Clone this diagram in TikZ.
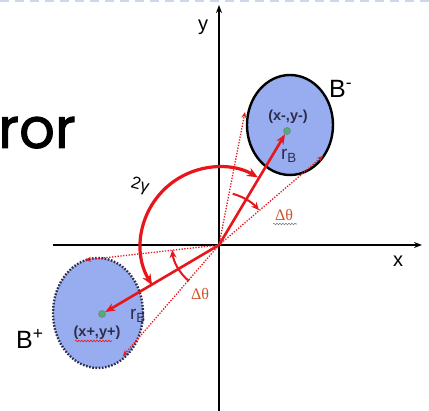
\documentclass[tikz,border=0pt]{standalone}
\usepackage{fontspec}
\setmainfont{Liberation Sans}
\newfontfamily\seriff{Liberation Serif}
\newfontfamily\popf[FakeBold=1.6]{Poppins}
\usetikzlibrary{arrows.meta,decorations.pathmorphing,shapes.geometric}
\definecolor{bfill}{RGB}{152,172,240}
\definecolor{rred}{RGB}{230,22,26}
\definecolor{dth}{RGB}{205,85,45}
\definecolor{dotg}{RGB}{80,175,115}
\definecolor{topline}{RGB}{205,215,235}
\definecolor{navytext}{RGB}{45,45,75}
\begin{document}
\begin{tikzpicture}[x=1pt,y=1pt,
  axisline/.style={line width=1.6pt,-{Stealth[length=8pt,width=6pt]}},
  ray/.style={rred,line width=2.6pt,-{Stealth[length=10pt,width=8pt]}},
  dray/.style={rred,line width=1.3pt,dash pattern=on 1.3pt off 1.5pt,-{Stealth[length=6pt,width=5pt]}},
  bigarc/.style={rred,line width=3.2pt,{Stealth[length=11pt,width=9pt]}-{Stealth[length=11pt,width=9pt]}},
  smallarc/.style={rred,line width=2pt,-{Stealth[length=8pt,width=7pt]}},
  bell/.style={ellipse,fill=bfill,inner sep=0pt},
  cdot/.style={circle,fill=dotg,draw=gray,line width=0.6pt,minimum size=7pt,inner sep=0pt},
  lbl/.style={inner sep=0pt},
  dlbl/.style={inner sep=0pt,text=dth,font=\seriff\fontsize{16}{18}\selectfont},
  wavy/.style={decorate,decoration={snake,amplitude=0.8pt,segment length=3pt},line width=0.6pt}
]
\useasboundingbox (0,0) rectangle (429,411);
% top dashed line
\draw[topline,line width=2pt,dash pattern=on 9pt off 6pt] (0,410) -- (429,410);
% title fragment
\node[lbl,anchor=base west,font=\popf\fontsize{56}{60}\selectfont] (ror) at (-2,263) {ror};
% axes
\coordinate (O) at (219,166);
\coordinate (ybot) at (219,0);
\coordinate (ytop) at (219,406);
\coordinate (xl) at (53,166);
\coordinate (xr) at (422,166);
\draw[axisline] (ybot) -- (ytop);
\draw[axisline] (xl) -- (xr);
\node[lbl,font=\fontsize{20}{22}\selectfont] (ylab) at (203,384) {y};
\node[lbl,font=\fontsize{20}{22}\selectfont] (xlab) at (398,150) {x};
% ellipses
\node[bell,draw=black,line width=2.4pt,minimum width=86pt,minimum height=100pt] (Bm) at (290,286) {};
\node[bell,draw=navytext,line width=2.4pt,dash pattern=on 1.6pt off 1.6pt,minimum width=90pt,minimum height=110pt] (Bp) at (98,98) {};
\node[cdot] (cm) at (287,280) {};
\node[cdot] (cp) at (102,97) {};
% labels in ellipses
\node[lbl,font=\bfseries\fontsize{14.5}{16}\selectfont,text=navytext] (lm) at (288,294) {(x-,y-)};
\node[lbl,font=\bfseries\fontsize{14.5}{16}\selectfont,text=navytext] (lp) at (97,78) {(x+,y+)};
\draw[rred,wavy] (75,70) -- (112,70);
\node[lbl,font=\fontsize{19}{20}\selectfont,text=navytext] (rm) at (289,255) {r\textsubscript{B}};
\node[lbl,font=\fontsize{19}{20}\selectfont,text=navytext] (rp) at (138,95) {r\textsubscript{B}};
\node[lbl,anchor=west,font=\fontsize{25}{28}\selectfont] (Bml) at (329,322) {B\textsuperscript{-}};
\node[lbl,anchor=west,font=\fontsize{25}{28}\selectfont] (Bpl) at (16,72) {B\textsuperscript{+}};
% tangent points
\coordinate (tm1) at (245,299);
\coordinate (tm2) at (323,255);
\coordinate (tp1) at (85,151);
\coordinate (tp2) at (123,55);
\draw[dray] (O) -- (tm1);
\draw[dray] (O) -- (tm2);
\draw[dray] (O) -- (tp1);
\draw[dray] (O) -- (tp2);
% centre rays
\draw[ray] (O) -- (cm);
\draw[ray] (O) -- (cp);
% angle arcs
\draw[bigarc] (O) ++(211:78) arc[start angle=211,end angle=60,radius=78];
\draw[smallarc] (O) ++(75:53) arc[start angle=75,end angle=41,radius=53];
\draw[smallarc] (O) ++(230:47) arc[start angle=230,end angle=186,radius=47];
% angle labels
\node[lbl,font=\fontsize{17}{18}\selectfont,rotate=-15] (g) at (140,225) {2γ};
\node[dlbl] (d1) at (284,196) {Δθ};
\draw[gray,wavy] (273,187) -- (297,187);
\node[dlbl] (d2) at (200,117) {Δθ};
\end{tikzpicture}
\end{document}
